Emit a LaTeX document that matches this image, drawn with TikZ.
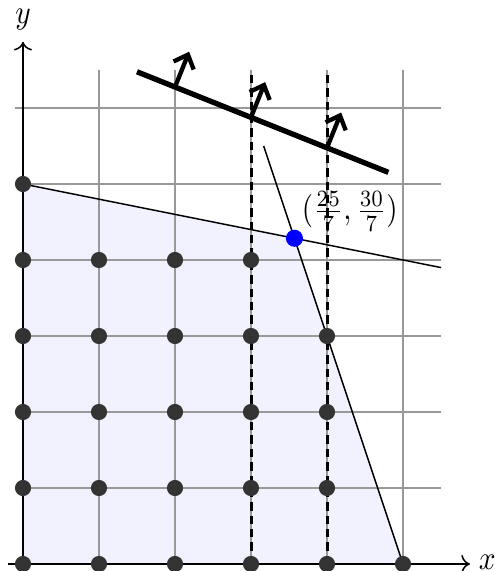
\documentclass[tikz,border=0pt]{standalone}
\usetikzlibrary{arrows.meta}
\begin{document}
\begin{tikzpicture}[scale=0.8,
  gridline/.style={black!40,line width=0.45pt},
  constraint/.style={black,line width=0.45pt},
  vdash/.style={black,line width=0.9pt,dash pattern=on 2.5pt off 1.5pt},
  axis/.style={black,line width=0.45pt,->},
  objline/.style={black,line width=1.6pt},
  objarrow/.style={black,line width=1.3pt,-{Straight Barb[length=3.5pt,width=6.5pt]}},
  dot/.style={circle,fill=black!80,inner sep=0pt,minimum size=0.17cm},
  optdot/.style={circle,fill=blue,inner sep=0pt,minimum size=0.18cm}]
\useasboundingbox (-0.3026,-0.092) rectangle (6.316,7.421);
% feasible region
\fill[blue!5] (0,0) -- (5,0) -- (25/7,30/7) -- (0,5) -- cycle;
% grid
\draw[gridline] (-0.1,-0.1) grid (5.5,6.5);
% constraint lines
\coordinate (A) at (0,5);
\coordinate (B) at (5,0);
\coordinate (L1e) at (5.5,3.9);
\coordinate (L2e) at (19/6,5.5);
\draw[constraint] (A) -- (L1e);
\draw[constraint] (B) -- (L2e);
% dashed verticals
\coordinate (d3b) at (3,0);
\coordinate (d3t) at (3,6.5);
\coordinate (d4b) at (4,0);
\coordinate (d4t) at (4,6.5);
\draw[vdash] (d3b) -- (d3t);
\draw[vdash] (d4b) -- (d4t);
% axes
\coordinate (xs) at (-0.2,0);
\coordinate (xe) at (5.88,0);
\coordinate (ys) at (0,-0.1);
\coordinate (ye) at (0,6.87);
\draw[axis] (xs) -- (xe);
\draw[axis] (ys) -- (ye);
\node[inner sep=1pt] (xlab) at (6.11,0.02) {\scalebox{0.88}[1]{$x$}};
\node[above] (ylab) at (ye) {\scalebox{0.88}[1]{$y$}};
% integer points
\foreach \x in {0,...,5} \node[dot] (p-\x-0) at (\x,0) {};
\foreach \yy in {1,2,3} {\foreach \x in {0,...,4} \node[dot] (p-\x-\yy) at (\x,\yy) {};}
\foreach \x in {0,...,3} \node[dot] (p-\x-4) at (\x,4) {};
\node[dot] (p-0-5) at (0,5) {};
% optimum
\node[optdot] (P) at (25/7,30/7) {};
\node (lab) at (4.3,4.64) {\scalebox{0.87}[1]{$(\frac{25}{7},\frac{30}{7})$}};
% objective line
\coordinate (o1) at (1.5,6.476);
\coordinate (o2) at (4.807,5.153);
\draw[objline] (o1) -- (o2);
\coordinate (b2) at (2,6.276);
\coordinate (b3) at (3,5.876);
\coordinate (b4) at (4,5.476);
\draw[objarrow] (b2) -- ++(0.186,0.464) coordinate (t2);
\draw[objarrow] (b3) -- ++(0.186,0.464) coordinate (t3);
\draw[objarrow] (b4) -- ++(0.186,0.464) coordinate (t4);
\end{tikzpicture}
\end{document}
